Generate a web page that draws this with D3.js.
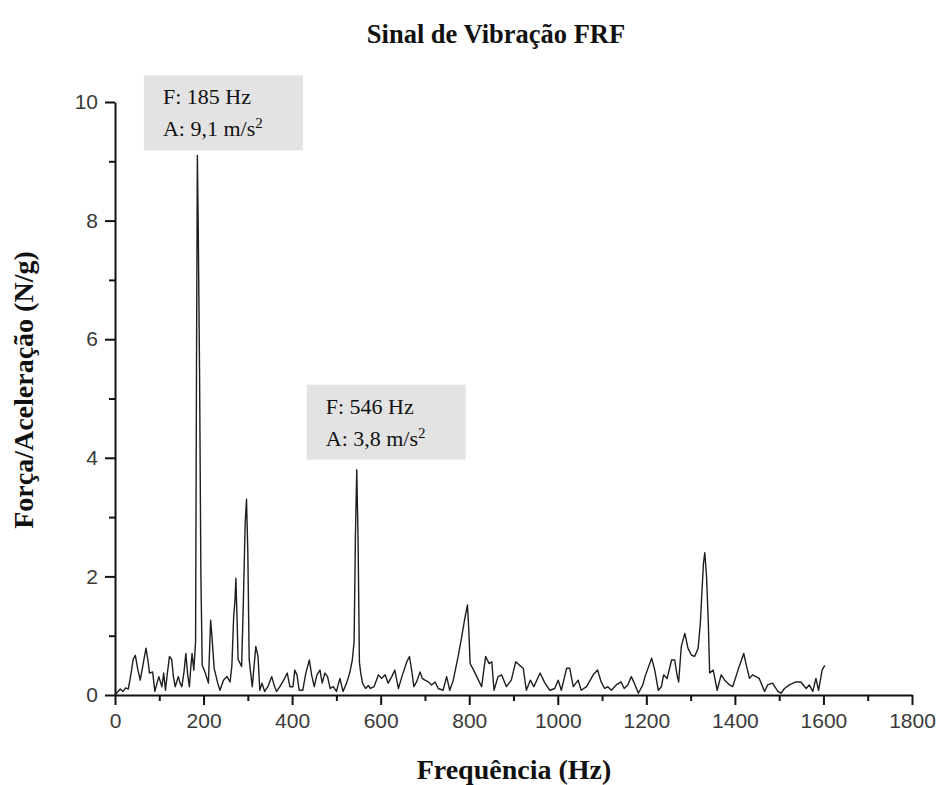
<!DOCTYPE html>
<html>
<head>
<meta charset="utf-8">
<script src="https://cdn.jsdelivr.net/npm/d3@7"></script>
<style>
  html, body { margin: 0; padding: 0; background: #fff; }
  svg { display: block; }
</style>
</head>
<body>
<div id="chart"></div>
<script>
// ---------- data ----------
const title = "Sinal de Vibração FRF";
const xLabel = "Frequência (Hz)";
const yLabel = "Força/Aceleração (N/g)";

const xTicks = [0, 200, 400, 600, 800, 1000, 1200, 1400, 1600, 1800];
const xMinorTicks = [100, 300, 500, 700, 900, 1100, 1300, 1500, 1700];
const yTicks = [0, 2, 4, 6, 8, 10];
const yMinorTicks = [1, 3, 5, 7, 9];

const freq = [0, 6, 12, 18, 24, 30, 36, 41, 46, 51, 57, 63, 70, 75, 78, 85, 90, 95, 99, 106,
  110, 114, 118, 123, 128, 132, 136, 143, 147, 151, 156, 160, 164, 168, 171, 174, 178, 182, 184, 186,
  188, 191, 194, 197, 204, 211, 216, 219, 224, 232, 237, 245, 253, 260, 264, 268, 271, 273, 276, 278,
  286, 290, 294, 297, 300, 303, 310, 318, 323, 327, 332, 338, 346, 354, 360, 365, 373, 381, 389, 395,
  402, 406, 411, 416, 424, 431, 439, 444, 450, 456, 463, 468, 474, 480, 486, 493, 500, 508, 515, 523,
  530, 536, 540, 543, 546, 549, 552, 555, 559, 566, 572, 577, 585, 595, 602, 610, 617, 625, 632, 640,
  648, 659, 665, 670, 675, 681, 689, 694, 700, 708, 715, 723, 730, 741, 749, 756, 764, 775, 783, 790,
  796, 799, 802, 810, 817, 828, 837, 845, 851, 856, 865, 873, 884, 895, 905, 914, 922, 929, 938, 946,
  960, 971, 982, 993, 1001, 1008, 1020, 1027, 1035, 1046, 1053, 1065, 1080, 1090, 1098, 1106, 1113, 1121, 1132, 1143,
  1150, 1158, 1166, 1173, 1182, 1192, 1197, 1212, 1219, 1227, 1234, 1239, 1247, 1257, 1264, 1270, 1273, 1279, 1287, 1294,
  1302, 1309, 1317, 1322, 1326, 1329, 1332, 1336, 1340, 1343, 1351, 1360, 1369, 1377, 1388, 1395, 1407, 1420, 1425, 1433,
  1440, 1455, 1467, 1474, 1485, 1497, 1504, 1512, 1523, 1538, 1549, 1561, 1568, 1576, 1583, 1589, 1597, 1603];

const amp = [0.0, 0.05, 0.1, 0.06, 0.12, 0.1, 0.35, 0.6, 0.67, 0.45, 0.25, 0.5, 0.79, 0.55, 0.37, 0.39, 0.06, 0.2, 0.31, 0.14,
  0.37, 0.08, 0.35, 0.65, 0.6, 0.3, 0.14, 0.31, 0.2, 0.14, 0.4, 0.7, 0.35, 0.14, 0.45, 0.7, 0.42, 0.9, 5.4, 9.1,
  7.9, 5.4, 2.0, 0.5, 0.37, 0.2, 1.26, 0.98, 0.45, 0.2, 0.08, 0.25, 0.31, 0.22, 0.5, 1.32, 1.6, 1.97, 1.2, 0.6,
  0.48, 1.6, 2.9, 3.3, 2.4, 0.6, 0.14, 0.82, 0.65, 0.08, 0.2, 0.06, 0.15, 0.31, 0.15, 0.06, 0.15, 0.25, 0.37, 0.14,
  0.14, 0.42, 0.34, 0.08, 0.08, 0.37, 0.59, 0.34, 0.14, 0.34, 0.42, 0.2, 0.37, 0.31, 0.11, 0.14, 0.06, 0.28, 0.06, 0.2,
  0.37, 0.59, 0.9, 2.7, 3.8, 2.6, 0.55, 0.37, 0.2, 0.11, 0.16, 0.11, 0.14, 0.34, 0.28, 0.34, 0.2, 0.31, 0.42, 0.11,
  0.31, 0.56, 0.65, 0.42, 0.14, 0.22, 0.39, 0.28, 0.25, 0.22, 0.17, 0.22, 0.11, 0.08, 0.31, 0.08, 0.25, 0.65, 0.98, 1.29,
  1.52, 1.1, 0.53, 0.42, 0.31, 0.14, 0.65, 0.53, 0.56, 0.08, 0.31, 0.34, 0.14, 0.25, 0.56, 0.5, 0.45, 0.08, 0.25, 0.14,
  0.37, 0.2, 0.08, 0.11, 0.25, 0.08, 0.45, 0.45, 0.14, 0.25, 0.08, 0.14, 0.34, 0.42, 0.22, 0.11, 0.14, 0.08, 0.17, 0.22,
  0.11, 0.17, 0.31, 0.2, 0.03, 0.17, 0.31, 0.62, 0.42, 0.08, 0.14, 0.34, 0.28, 0.59, 0.59, 0.31, 0.22, 0.82, 1.04, 0.79,
  0.67, 0.65, 0.79, 1.21, 1.8, 2.22, 2.4, 2.0, 1.21, 0.37, 0.42, 0.08, 0.34, 0.25, 0.17, 0.14, 0.42, 0.7, 0.53, 0.28,
  0.34, 0.28, 0.06, 0.17, 0.2, 0.06, 0.03, 0.11, 0.17, 0.22, 0.22, 0.11, 0.17, 0.06, 0.28, 0.08, 0.42, 0.5];

const annFreq = [185, 546];
const annAmp = [9.1, 3.8];
const annLine1 = ["F: 185 Hz", "F: 546 Hz"];
const annLine2 = ["A: 9,1 m/s", "A: 3,8 m/s"];

// ---------- layout ----------
const W = 942, H = 785;
const x = d3.scaleLinear().domain([0, 1800]).range([115, 912]);
const y = d3.scaleLinear().domain([0, 10]).range([695, 102]);

const svg = d3.select("#chart").append("svg")
  .attr("width", W).attr("height", H);

svg.append("rect").attr("width", W).attr("height", H).attr("fill", "#fff");

const serif = "'Liberation Serif', 'Times New Roman', serif";

// title
svg.append("text")
  .attr("x", 496).attr("y", 43)
  .attr("text-anchor", "middle")
  .attr("font-family", serif)
  .attr("font-weight", "bold")
  .attr("font-size", 26.5)
  .attr("fill", "#111")
  .text(title);

// axis titles
svg.append("text")
  .attr("x", 514).attr("y", 779)
  .attr("text-anchor", "middle")
  .attr("font-family", serif)
  .attr("font-weight", "bold")
  .attr("font-size", 28)
  .attr("fill", "#111")
  .text(xLabel);

svg.append("text")
  .attr("transform", "translate(33,390) rotate(-90)")
  .attr("text-anchor", "middle")
  .attr("font-family", serif)
  .attr("font-weight", "bold")
  .attr("font-size", 28)
  .attr("fill", "#111")
  .text(yLabel);

// axes
const tickFont = "'Liberation Sans', Arial, sans-serif";
function styleAxis(g) {
  g.selectAll("path.domain").attr("stroke", "#111").attr("stroke-width", 2);
  g.selectAll(".tick line").attr("stroke", "#111").attr("stroke-width", 2);
  g.selectAll(".tick text").attr("font-family", tickFont).attr("font-size", 21).attr("fill", "#3a3a3a");
}

svg.append("g").attr("transform", `translate(0,${y(0)})`)
  .call(d3.axisBottom(x).tickValues(xTicks).tickFormat(d3.format("d")).tickSize(10).tickPadding(8).tickSizeOuter(0))
  .call(styleAxis);
const xMinorG = svg.append("g").attr("transform", `translate(0,${y(0)})`)
  .call(d3.axisBottom(x).tickValues(xMinorTicks).tickSize(6).tickFormat("").tickSizeOuter(0))
  .call(styleAxis);
xMinorG.select("path.domain").remove();

svg.append("g").attr("transform", `translate(${x(0)},0)`)
  .call(d3.axisLeft(y).tickValues(yTicks).tickFormat(d3.format("d")).tickSize(10).tickPadding(7).tickSizeOuter(0))
  .call(styleAxis);
const yMinorG = svg.append("g").attr("transform", `translate(${x(0)},0)`)
  .call(d3.axisLeft(y).tickValues(yMinorTicks).tickSize(6).tickFormat("").tickSizeOuter(0))
  .call(styleAxis);
yMinorG.select("path.domain").remove();

// data line
const pts = freq.map((f, i) => [f, amp[i]]);
svg.append("path")
  .datum(pts)
  .attr("fill", "none")
  .attr("stroke", "#1e1e1e")
  .attr("stroke-width", 1.4)
  .attr("stroke-linejoin", "round")
  .attr("d", d3.line().x(d => x(d[0])).y(d => y(d[1])));

// annotations
const boxW = 159, boxH = 75;
const annDx = [-53, -50];
const annGap = [5, 10];
annFreq.forEach((f, i) => {
  const bx = x(f) + annDx[i];
  const by = y(annAmp[i]) - annGap[i] - boxH;
  const g = svg.append("g").attr("transform", `translate(${bx},${by})`);
  g.append("rect").attr("width", boxW).attr("height", boxH).attr("fill", "#e3e3e3");
  g.append("text").attr("x", 19).attr("y", 29)
    .attr("font-family", serif).attr("font-size", 22).attr("fill", "#111")
    .text(annLine1[i]);
  const t2 = g.append("text").attr("x", 19).attr("y", 61)
    .attr("font-family", serif).attr("font-size", 22).attr("fill", "#111");
  t2.append("tspan").text(annLine2[i]);
  t2.append("tspan").attr("dy", -8).attr("font-size", 15).text("2");
});
</script>
</body>
</html>
